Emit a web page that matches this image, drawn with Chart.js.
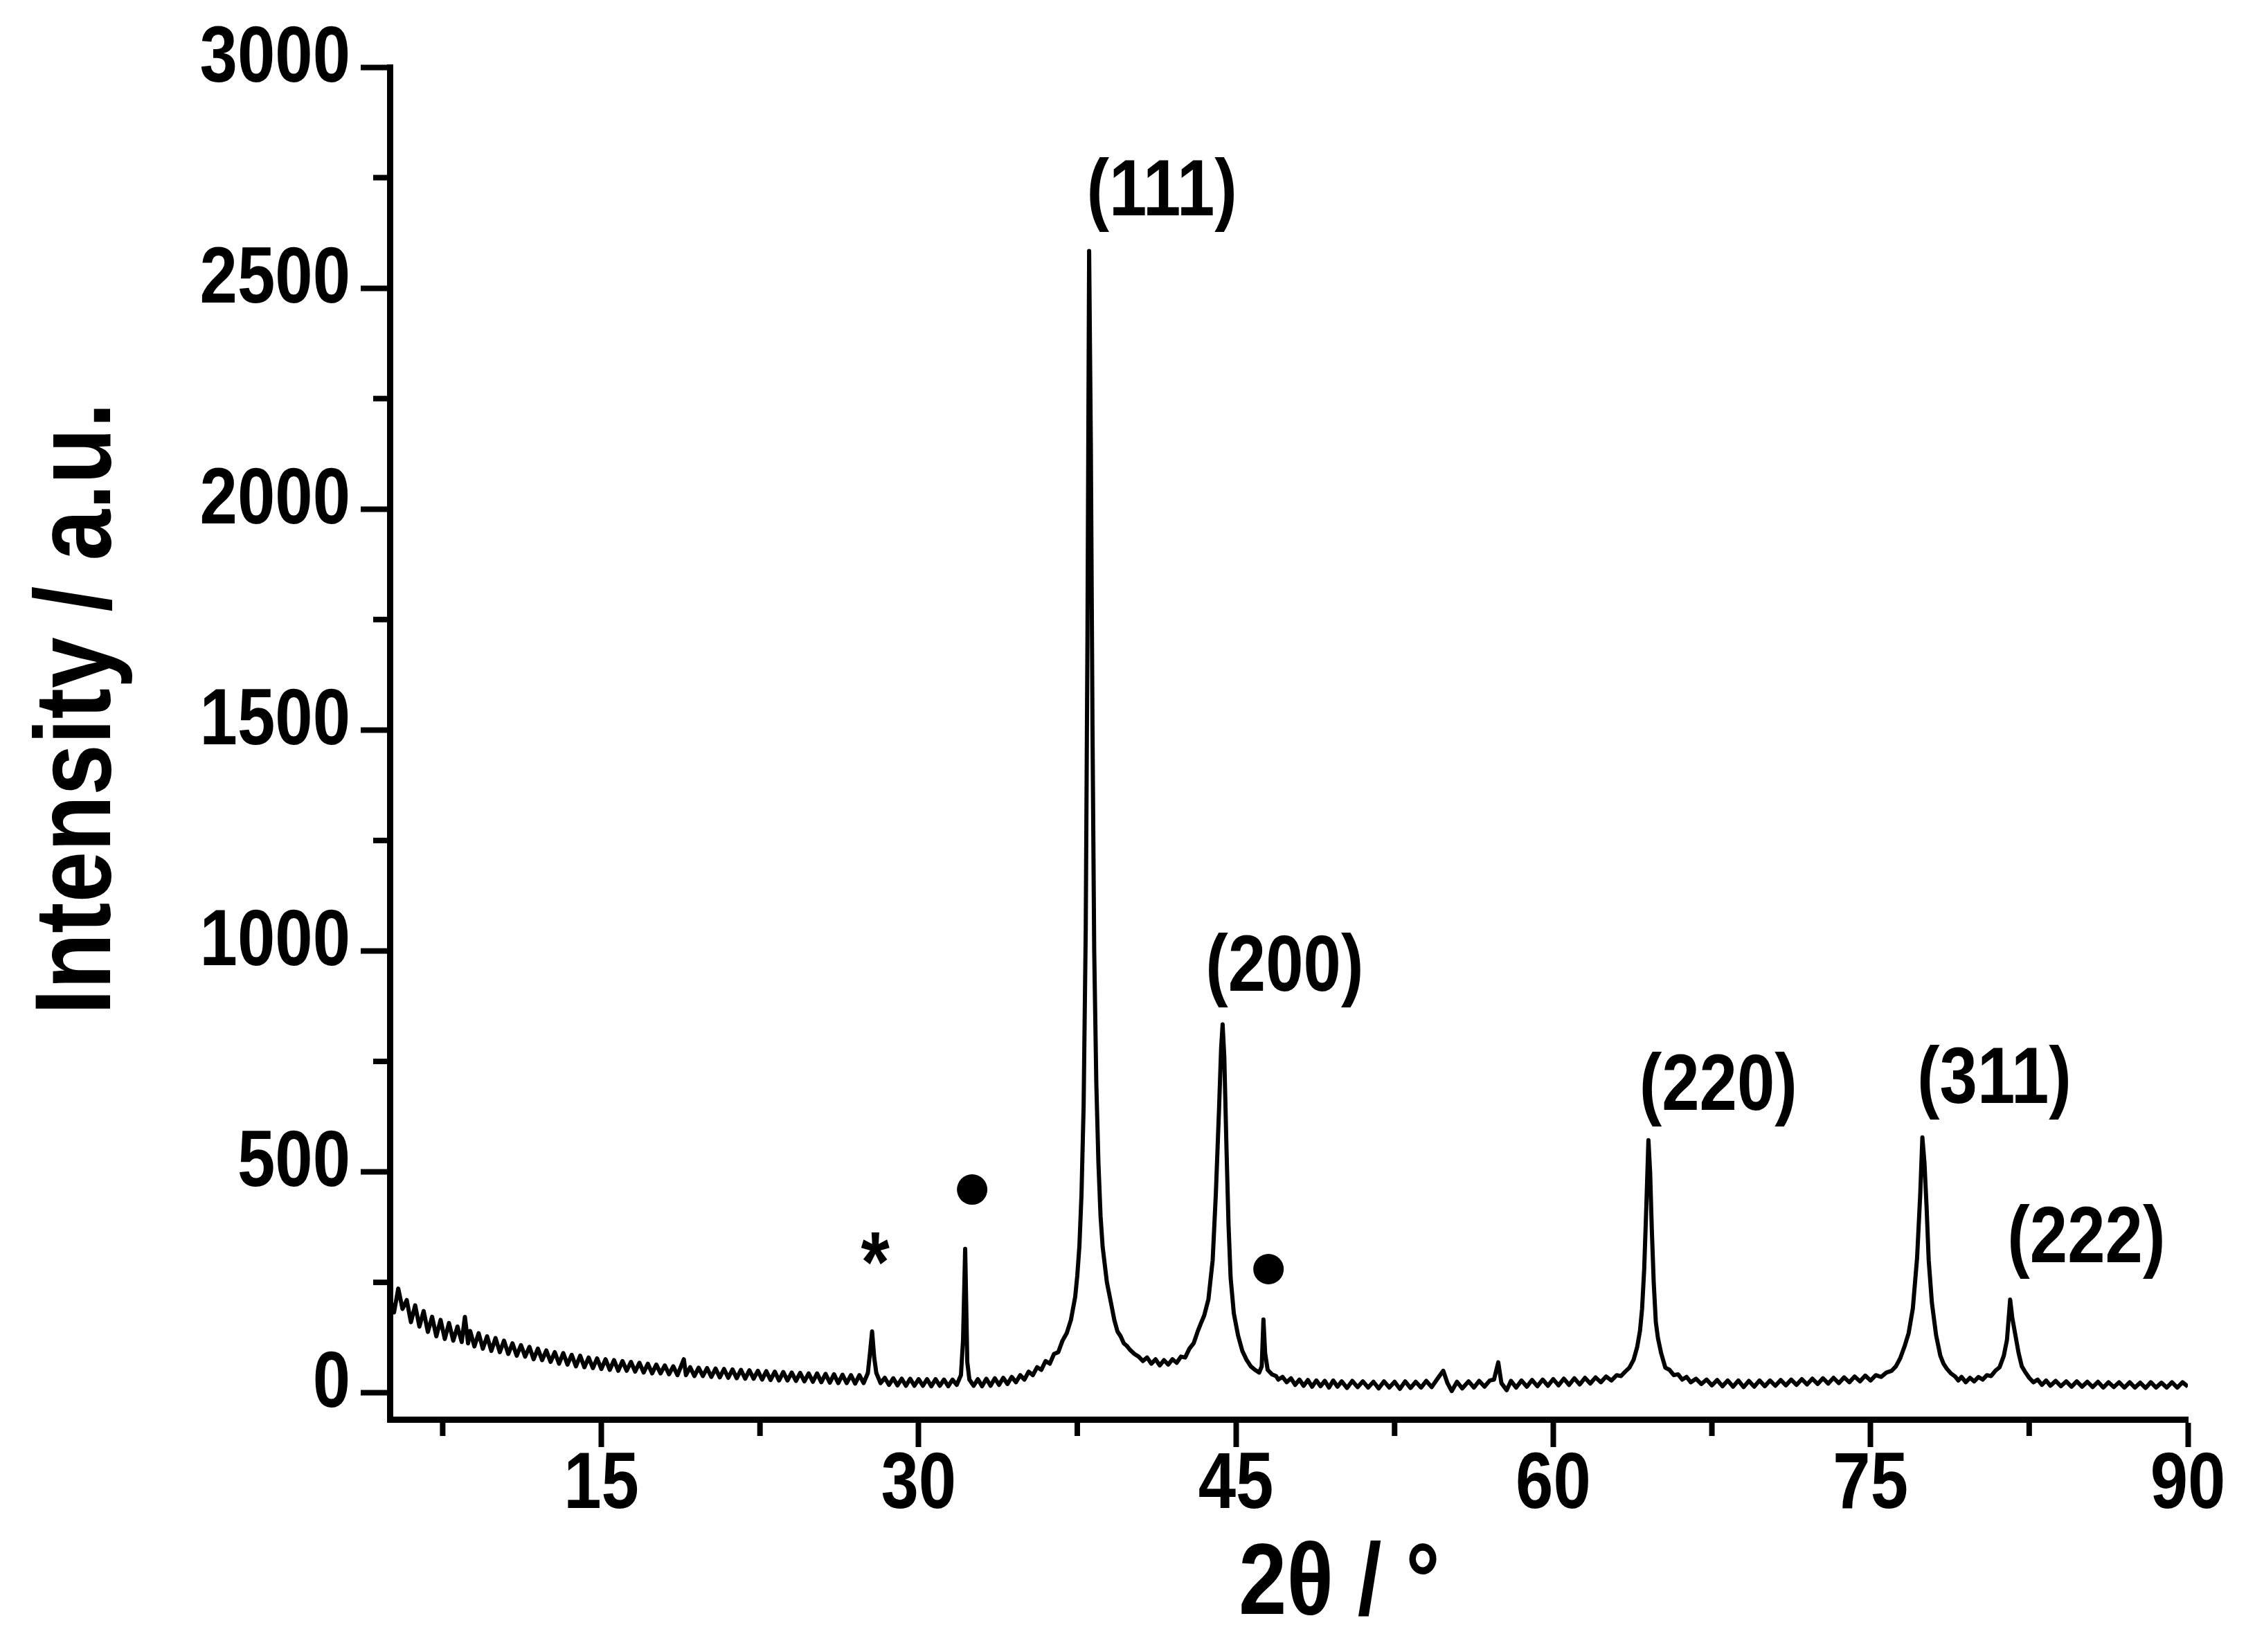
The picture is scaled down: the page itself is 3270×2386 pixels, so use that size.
<!DOCTYPE html>
<html>
<head>
<meta charset="utf-8">
<script src="https://cdn.jsdelivr.net/npm/chart.js@4.4.1/dist/chart.umd.min.js"></script>
<style>
  html, body { margin: 0; padding: 0; background: #fff; }
  #wrap { width: 3270px; height: 2386px; }
</style>
</head>
<body>
<div id="wrap"><canvas id="xrdChart"></canvas></div>
<script>
// XRD scan as [2theta, intensity] pairs
const lowAngleScan = [
  [5.0, 215], [5.2, 182], [5.4, 236], [5.6, 190], [5.8, 210], [6.0, 160], [6.2, 198], [6.4, 150],
  [6.6, 185], [6.8, 138], [7.0, 172], [7.2, 128], [7.4, 165], [7.6, 122], [7.8, 158], [8.0, 118],
  [8.2, 150], [8.4, 115], [8.55, 172], [8.7, 112], [8.8, 140], [9.0, 105], [9.2, 135], [9.4, 100],
  [9.6, 128], [9.8, 95], [10.0, 124], [10.2, 92], [10.4, 118], [10.6, 88], [10.8, 112], [11.0, 84],
  [11.2, 108], [11.4, 82], [11.6, 104], [11.8, 76], [12.0, 100], [12.2, 74], [12.4, 96], [12.6, 70],
  [12.8, 92], [13.0, 66], [13.2, 90], [13.4, 64], [13.6, 86], [13.8, 60], [14.0, 84], [14.2, 58],
  [14.4, 80], [14.6, 56], [14.8, 78], [15.0, 54], [15.2, 76], [15.4, 52], [15.6, 74], [15.8, 50],
  [16.0, 72], [16.2, 50], [16.4, 70], [16.6, 48], [16.8, 68], [17.0, 46], [17.2, 66], [17.4, 44],
  [17.6, 64], [17.8, 44], [18.0, 62], [18.2, 42], [18.4, 60], [18.6, 40], [18.9, 76], [19.0, 40],
  [19.2, 58], [19.4, 38], [19.6, 57], [19.8, 38], [20.0, 56], [20.2, 36], [20.4, 55], [20.6, 35],
  [20.8, 54], [21.0, 34], [21.2, 53], [21.4, 33], [21.6, 52], [21.8, 32], [22.0, 51], [22.2, 32],
  [22.4, 50], [22.6, 30], [22.8, 49], [23.0, 29], [23.2, 48], [23.4, 28], [23.6, 47], [23.8, 28],
  [24.0, 46], [24.2, 27], [24.4, 45], [24.6, 26], [24.8, 44], [25.0, 25], [25.2, 44], [25.4, 24],
  [25.6, 43], [25.8, 23], [26.0, 42], [26.2, 22], [26.4, 41], [26.6, 22], [26.8, 40], [27.0, 21],
  [27.2, 40], [27.4, 22], [27.6, 45], [27.7, 90], [27.8, 139], [27.9, 80], [28.0, 45], [28.2, 22],
  [28.4, 34], [28.6, 18], [28.8, 33], [29.0, 17], [29.2, 32], [29.4, 16], [29.6, 32], [29.8, 16],
  [30.0, 31], [30.2, 16], [30.4, 31], [30.6, 15], [30.8, 31], [31.0, 16], [31.2, 30], [31.4, 15],
  [31.6, 30], [31.8, 18], [32.0, 40], [32.1, 120], [32.2, 326], [32.3, 70], [32.4, 30], [32.6, 16],
  [32.8, 31], [33.0, 15], [33.2, 32], [33.4, 16], [33.6, 33], [33.8, 18], [34.0, 34], [34.2, 20],
  [34.4, 36], [34.6, 24], [34.8, 40], [35.0, 30],
];
const mainPeaksScan = [
  [35.2, 48], [35.4, 40], [35.6, 58], [35.8, 52], [36.0, 72], [36.2, 66], [36.4, 88], [36.6, 92],
  [36.8, 118], [37.0, 135], [37.2, 165], [37.4, 217], [37.5, 265], [37.6, 332], [37.7, 450], [37.8, 650],
  [37.9, 1050], [37.98, 1700], [38.06, 2584], [38.14, 2150], [38.22, 1500], [38.3, 1000], [38.4, 700],
  [38.5, 520], [38.6, 400], [38.7, 330], [38.9, 250], [39.1, 202], [39.25, 165], [39.4, 139], [39.55, 128],
  [39.7, 112], [39.85, 106], [40.0, 97], [40.2, 88], [40.4, 82], [40.6, 72], [40.8, 80], [41.0, 66],
  [41.2, 76], [41.4, 62], [41.6, 74], [41.8, 64], [42.0, 76], [42.2, 68], [42.4, 82], [42.6, 80],
  [42.8, 100], [43.0, 112], [43.2, 140], [43.35, 158], [43.5, 175], [43.7, 212], [43.9, 300], [44.05, 450],
  [44.2, 640], [44.3, 780], [44.37, 834], [44.45, 760], [44.55, 560], [44.65, 380], [44.75, 260],
  [44.9, 180], [45.1, 130], [45.3, 95], [45.5, 75], [45.7, 60], [45.9, 52], [46.1, 46], [46.22, 60],
  [46.3, 166], [46.38, 90], [46.5, 52], [46.7, 42], [46.9, 38], [47.0, 30],
];
const midAngleScan = [
  [47.2, 36], [47.4, 24], [47.6, 33], [47.8, 18], [48.0, 30], [48.2, 16], [48.4, 29], [48.6, 14],
  [48.8, 28], [49.0, 15], [49.2, 27], [49.4, 12], [49.6, 28], [49.8, 14], [50.0, 26], [50.25, 11],
  [50.5, 27], [50.75, 13], [51.0, 26], [51.25, 12], [51.5, 25], [51.75, 10], [52.0, 26], [52.25, 12],
  [52.5, 25], [52.75, 9], [53.0, 26], [53.25, 11], [53.5, 25], [53.75, 12], [54.0, 27], [54.25, 13],
  [54.5, 30], [54.8, 50], [55.0, 22], [55.2, 4], [55.45, 25], [55.7, 10], [56.0, 26], [56.25, 12],
  [56.5, 27], [56.75, 14], [57.0, 28], [57.2, 30], [57.4, 69], [57.55, 22], [57.8, 6], [58.0, 27],
  [58.25, 12], [58.5, 28], [58.75, 14], [59.0, 29], [59.25, 15], [59.5, 30], [59.75, 16], [60.0, 31],
  [60.25, 17], [60.5, 32], [60.75, 18], [61.0, 33], [61.25, 19], [61.5, 34], [61.75, 21], [62.0, 35],
  [62.25, 24], [62.5, 37], [62.75, 28], [63.0, 40], [63.2, 38], [63.4, 48], [63.6, 57], [63.8, 75],
  [63.97, 104], [64.1, 140], [64.2, 190], [64.3, 280], [64.4, 420], [64.5, 572], [64.58, 500],
  [64.66, 370], [64.75, 250], [64.85, 160], [64.95, 124], [65.1, 90], [65.3, 57], [65.5, 52],
  [65.7, 40], [65.9, 42], [66.1, 30], [66.3, 36], [66.5, 24], [66.75, 32], [67.0, 20], [67.25, 30],
  [67.5, 17], [67.75, 29], [68.0, 15], [68.25, 28], [68.5, 14], [68.75, 28], [69.0, 13], [69.25, 27],
  [69.5, 14], [69.75, 28], [70.0, 15], [70.25, 28], [70.5, 16], [70.75, 29], [71.0, 17], [71.25, 30],
  [71.5, 18], [71.75, 31], [72.0, 19], [72.25, 32], [72.5, 20], [72.75, 33], [73.0, 21], [73.25, 34],
  [73.5, 22], [73.75, 35], [74.0, 24], [74.25, 37], [74.5, 26], [74.75, 39], [75.0, 28],
];
const highAngleScan = [
  [75.25, 40], [75.5, 36], [75.75, 46], [76.0, 50], [76.2, 60], [76.4, 78], [76.6, 104], [76.8, 135],
  [77.0, 191], [77.2, 305], [77.35, 450], [77.45, 578], [77.55, 520], [77.65, 420], [77.75, 300],
  [77.9, 204], [78.1, 130], [78.3, 84], [78.45, 66], [78.6, 55], [78.8, 44], [79.0, 37], [79.15, 28],
  [79.3, 36], [79.5, 24], [79.7, 34], [79.9, 26], [80.1, 36], [80.3, 30], [80.5, 40], [80.7, 38],
  [80.9, 50], [81.1, 58], [81.3, 84], [81.45, 120], [81.6, 211], [81.7, 170], [81.85, 130], [82.0, 90],
  [82.15, 60], [82.3, 48], [82.5, 34], [82.7, 24], [82.9, 30], [83.1, 18], [83.3, 28], [83.5, 16],
  [83.75, 27], [84.0, 15], [84.25, 26], [84.5, 14], [84.75, 26], [85.0, 14], [85.25, 25], [85.5, 13],
  [85.75, 25], [86.0, 12], [86.25, 24], [86.5, 13], [86.75, 24], [87.0, 12], [87.25, 24], [87.5, 12],
  [87.75, 23], [88.0, 11], [88.25, 24], [88.5, 12], [88.75, 23], [89.0, 12], [89.25, 24], [89.5, 12],
  [89.75, 24], [90.0, 14],
];

// reflection labels and impurity markers
const peakLabels = ["(111)", "(200)", "(220)", "(311)", "(222)"];
const peakLabelX = [41.5, 47.3, 67.8, 80.85, 85.2];
const peakLabelY = [2714, 960, 690, 705, 345];
const dotMarkX = [32.53, 46.54];
const dotMarkY = [460, 280];
const starMarkX = [27.95];
const starMarkY = [283];

// axis ticks and titles
const xMajorTicks = [15, 30, 45, 60, 75, 90];
const xMinorTicks = [7.5, 22.5, 37.5, 52.5, 67.5, 82.5];
const yMajorTicks = [0, 500, 1000, 1500, 2000, 2500, 3000];
const yMinorTicks = [250, 750, 1250, 1750, 2250, 2750];
const xTitle = "2θ / °";
const yTitle = "Intensity / a.u.";

const FONT = '"Liberation Sans", Arial, sans-serif';
const SQUEEZE = 0.85; // the original lettering is a condensed bold face

(function () {
  const xrdChart = document.getElementById("xrdChart").getContext("2d");

  const scan = lowAngleScan
    .concat(mainPeaksScan, midAngleScan, highAngleScan)
    .map((p) => ({ x: p[0], y: p[1] }));
  const dots = dotMarkX.map((v, i) => ({ x: v, y: dotMarkY[i] }));

  function squeezedText(ctx, text, x, y, size, align, vertical) {
    ctx.save();
    ctx.translate(x, y);
    if (vertical) ctx.rotate(-Math.PI / 2);
    ctx.scale(SQUEEZE, 1);
    ctx.font = "bold " + size + "px " + FONT;
    ctx.textAlign = align;
    ctx.textBaseline = "middle";
    ctx.fillStyle = "#000";
    ctx.fillText(text, 0, 0);
    ctx.restore();
  }

  // minor ticks, tick labels, titles, peak labels
  const extras = {
    id: "extras",
    afterDraw(chart) {
      const ctx = chart.ctx;
      const xs = chart.scales.x;
      const ys = chart.scales.y;
      const area = chart.chartArea;
      ctx.save();
      ctx.strokeStyle = "#000";
      ctx.lineWidth = 8;
      xMinorTicks.forEach((v) => {
        const px = xs.getPixelForValue(v);
        ctx.beginPath();
        ctx.moveTo(px, area.bottom);
        ctx.lineTo(px, area.bottom + 24);
        ctx.stroke();
      });
      yMinorTicks.forEach((v) => {
        const py = ys.getPixelForValue(v);
        ctx.beginPath();
        ctx.moveTo(area.left, py);
        ctx.lineTo(area.left - 24, py);
        ctx.stroke();
      });
      ctx.restore();

      xMajorTicks.forEach((v) => {
        squeezedText(ctx, String(v), xs.getPixelForValue(v), area.bottom + 96, 115, "center");
      });
      yMajorTicks.forEach((v) => {
        squeezedText(ctx, String(v), area.left - 57, ys.getPixelForValue(v) - 11, 115, "right");
      });
      squeezedText(ctx, xTitle, (area.left + area.right) / 2 + 73, area.bottom + 240, 147, "center");
      squeezedText(ctx, yTitle, 116, (area.top + area.bottom) / 2 - 50, 156, "center", true);

      peakLabels.forEach((t, i) => {
        squeezedText(ctx, t, xs.getPixelForValue(peakLabelX[i]), ys.getPixelForValue(peakLabelY[i]), 115, "center");
      });
      starMarkX.forEach((v, i) => {
        squeezedText(ctx, "*", xs.getPixelForValue(v), ys.getPixelForValue(starMarkY[i]), 125, "center");
      });
    },
  };

  new Chart(xrdChart, {
    type: "line",
    data: {
      datasets: [
        {
          label: "XRD",
          data: scan,
          borderColor: "#000",
          borderWidth: 6,
          borderJoinStyle: "round",
          pointRadius: 0,
          tension: 0,
          fill: false,
        },
        {
          label: "impurity",
          data: dots,
          showLine: false,
          pointRadius: 22,
          pointStyle: "circle",
          pointBackgroundColor: "#000",
          pointBorderColor: "#000",
          pointBorderWidth: 0,
        },
      ],
    },
    options: {
      responsive: true,
      maintainAspectRatio: false,
      animation: false,
      devicePixelRatio: 1,
      layout: {
        padding: { top: 97, right: 110, bottom: 0, left: 0 },
      },
      plugins: {
        legend: { display: false },
        tooltip: { enabled: false },
      },
      scales: {
        x: {
          type: "linear",
          min: 5,
          max: 90,
          afterBuildTicks: (s) => {
            s.ticks = xMajorTicks.map((v) => ({ value: v }));
          },
          afterFit: (s) => {
            s.height = 336;
          },
          border: { display: true, color: "#000", width: 9 },
          grid: {
            drawOnChartArea: false,
            drawTicks: true,
            tickLength: 40,
            tickWidth: 8,
            tickColor: "#000",
          },
          ticks: { display: false, autoSkip: false },
          title: { display: false },
        },
        y: {
          min: -60,
          max: 3000,
          afterBuildTicks: (s) => {
            s.ticks = yMajorTicks.map((v) => ({ value: v }));
          },
          afterFit: (s) => {
            s.width = 563;
          },
          border: { display: true, color: "#000", width: 9 },
          grid: {
            drawOnChartArea: false,
            drawTicks: true,
            tickLength: 42,
            tickWidth: 8,
            tickColor: "#000",
          },
          ticks: { display: false, autoSkip: false },
          title: { display: false },
        },
      },
    },
    plugins: [extras],
  });
})();
</script>
</body>
</html>
